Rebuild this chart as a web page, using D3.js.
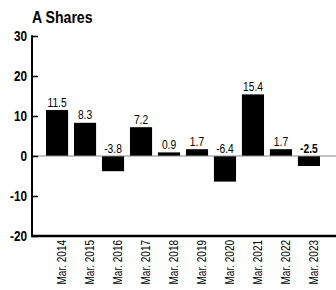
<!DOCTYPE html>
<html>
<head>
<meta charset="utf-8">
<script src="https://cdn.jsdelivr.net/npm/d3@7"></script>
<style>
  body { margin: 0; background: #fff; }
  svg { display: block; font-family: "Liberation Sans", Arial, sans-serif; }
</style>
</head>
<body>
<svg id="chart" width="336" height="290"></svg>
<script>
const categories = ["Mar. 2014", "Mar. 2015", "Mar. 2016", "Mar. 2017", "Mar. 2018",
  "Mar. 2019", "Mar. 2020", "Mar. 2021", "Mar. 2022", "Mar. 2023"];
const values = [11.5, 8.3, -3.8, 7.2, 0.9, 1.7, -6.4, 15.4, 1.7, -2.5];
const yTicks = [30, 20, 10, 0, -10, -20];

const width = 336, height = 290;
const margin = { top: 36, right: 2, bottom: 54, left: 32 };

const svg = d3.select("#chart");

// squeeze text to look like a condensed face
function condense(sel, k) {
  sel.each(function () {
    const len = this.getComputedTextLength();
    d3.select(this)
      .attr("textLength", len * k)
      .attr("lengthAdjust", "spacingAndGlyphs");
  });
}
const fmt = d => d3.format(".1f")(d).replace("\u2212", "-");

const x = d3.scaleBand()
  .domain(categories)
  .range([margin.left, width - margin.right])
  .paddingInner(0.21)
  .paddingOuter(0.5);

const y = d3.scaleLinear()
  .domain([-20, 30])
  .range([height - margin.bottom, margin.top]);

// title
svg.append("text")
  .attr("x", margin.left)
  .attr("y", 23)
  .attr("font-size", 16)
  .attr("font-weight", "bold")
  .text("A Shares")
  .call(condense, 0.88);

// bars
svg.selectAll(".bar")
  .data(values)
  .enter()
  .append("rect")
  .attr("x", (d, i) => x(categories[i]))
  .attr("width", x.bandwidth())
  .attr("y", d => y(Math.max(0, d)))
  .attr("height", d => Math.abs(y(d) - y(0)))
  .attr("fill", "#000");

// zero line
svg.append("line")
  .attr("x1", margin.left)
  .attr("x2", width)
  .attr("y1", y(0))
  .attr("y2", y(0))
  .attr("stroke", "#888")
  .attr("stroke-width", 1);

// y axis, ticks pointing inward
const yAxis = d3.axisRight(y).tickValues(yTicks).tickSize(6)
  .tickFormat(d => String(d));
const yg = svg.append("g")
  .attr("transform", `translate(${margin.left},0)`)
  .call(yAxis);
yg.select(".domain").remove();
yg.selectAll("line").attr("stroke", "#000").attr("stroke-width", 1.5);
yg.selectAll("text")
  .attr("x", -5)
  .attr("text-anchor", "end")
  .attr("font-size", 15.5)
  .attr("font-weight", "bold")
  .attr("fill", "#000")
  .call(condense, 0.76);
yg.append("line")
  .attr("x1", 0).attr("x2", 0)
  .attr("y1", y(30) - 0.75).attr("y2", y(-20))
  .attr("stroke", "#000").attr("stroke-width", 2);

// bottom axis
const xg = svg.append("g")
  .attr("transform", `translate(0,${y(-20)})`)
  .call(d3.axisBottom(x).tickSize(0));
xg.select(".domain").remove();
xg.append("line")
  .attr("x1", margin.left - 1).attr("x2", width)
  .attr("y1", 0).attr("y2", 0)
  .attr("stroke", "#000").attr("stroke-width", 2.5);
xg.selectAll(".tick text")
  .attr("transform", "translate(5,4) rotate(-90)")
  .attr("x", 0)
  .attr("y", 0)
  .attr("dy", "0.35em")
  .attr("text-anchor", "end")
  .attr("font-size", 12.5)
  .attr("font-family", "Liberation Sans, Arial, sans-serif")
  .attr("fill", "#000")
  .call(condense, 0.8);

// value labels
svg.selectAll(".label")
  .data(values)
  .enter()
  .append("text")
  .attr("x", (d, i) => x(categories[i]) + x.bandwidth() / 2)
  .attr("y", d => y(Math.max(0, d)) - 3.5)
  .attr("text-anchor", "middle")
  .attr("font-size", 12.5)
  .attr("font-weight", (d, i) => i === values.length - 1 ? "bold" : "normal")
  .text(fmt)
  .call(condense, 0.82);
</script>
</body>
</html>
